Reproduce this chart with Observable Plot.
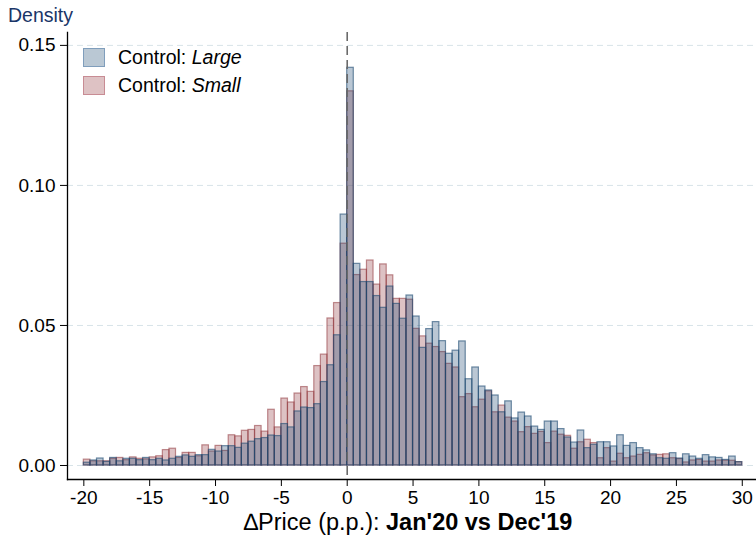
<!DOCTYPE html>
<html><head><meta charset="utf-8">
<script src="https://cdn.jsdelivr.net/npm/d3@7"></script>
<script src="https://cdn.jsdelivr.net/npm/@observablehq/plot@0.6"></script>
<style>
body{margin:0;background:#fff;}
#wrap{position:relative;width:756px;height:535px;font-family:"Liberation Sans",Arial,Helvetica,sans-serif;}
.legend{position:absolute;left:83px;top:43.4px;font-size:19.5px;color:#000;}
.item{display:flex;align-items:center;height:28.4px;}
.sw{width:20px;height:17px;border:1.5px solid;margin-right:13px;box-sizing:content-box;}
</style></head><body><div id="wrap"></div>
<script>
// bins: width 0.5 starting at -20 (100 bins up to 30)
const binStart = -20;
const binWidth = 0.5;
const xTicks = [-20, -15, -10, -5, 0, 5, 10, 15, 20, 25, 30];
const yTicks = [0, 0.05, 0.10, 0.15];
const seriesNames = ["Large", "Small"];

const large = [
0.0010,0.0018,0.0025,0.0013,0.0027,0.0015,0.0024,0.0024,0.0019,0.0027,
0.0019,0.0024,0.0018,0.0024,0.0031,0.0036,0.0031,0.0037,0.0037,0.0056,
0.0050,0.0069,0.0069,0.0063,0.0078,0.0085,0.0094,0.0098,0.0107,0.0105,
0.0148,0.0136,0.0193,0.0207,0.0205,0.0219,0.0298,0.0358,0.0465,0.0896,
0.1420,0.0720,0.0655,0.0655,0.0605,0.0563,0.0639,0.0577,0.0524,0.0607,
0.0532,0.0420,0.0487,0.0512,0.0444,0.0399,0.0410,0.0443,0.0308,0.0350,
0.0282,0.0268,0.0250,0.0190,0.0229,0.0168,0.0189,0.0175,0.0139,0.0127,
0.0157,0.0157,0.0130,0.0100,0.0082,0.0125,0.0062,0.0074,0.0083,0.0083,
0.0068,0.0108,0.0070,0.0080,0.0062,0.0054,0.0040,0.0026,0.0024,0.0044,
0.0025,0.0040,0.0032,0.0024,0.0037,0.0029,0.0027,0.0020,0.0032,0.0012];

const small = [
0.0021,0.0015,0.0015,0.0015,0.0024,0.0027,0.0019,0.0029,0.0024,0.0022,
0.0029,0.0033,0.0055,0.0060,0.0027,0.0045,0.0045,0.0033,0.0072,0.0050,
0.0070,0.0052,0.0108,0.0104,0.0124,0.0127,0.0141,0.0121,0.0199,0.0136,
0.0239,0.0225,0.0257,0.0280,0.0263,0.0355,0.0396,0.0525,0.0580,0.0792,
0.1336,0.0680,0.0699,0.0732,0.0646,0.0718,0.0679,0.0595,0.0595,0.0592,
0.0488,0.0461,0.0435,0.0423,0.0405,0.0363,0.0350,0.0244,0.0255,0.0208,
0.0235,0.0265,0.0190,0.0214,0.0171,0.0157,0.0119,0.0137,0.0113,0.0120,
0.0080,0.0121,0.0110,0.0106,0.0060,0.0083,0.0092,0.0080,0.0026,0.0062,
0.0014,0.0042,0.0026,0.0032,0.0038,0.0044,0.0036,0.0038,0.0040,0.0026,
0.0023,0.0011,0.0018,0.0020,0.0014,0.0014,0.0018,0.0017,0.0017,0.0012];

const navy = "#1a476f", maroon = "#90353b";
const FONT = '"Liberation Sans", Arial, Helvetica, sans-serif';

const toBins = arr => arr.map((v, i) => ({x1: binStart + i * binWidth, x2: binStart + (i + 1) * binWidth, y: v}));
const largeBins = toBins(large);
const smallBins = toBins(small);

const svg = Plot.plot({
  width: 756,
  height: 535,
  marginLeft: 67,
  marginRight: 0,
  marginTop: 32,
  marginBottom: 56,
  style: {fontFamily: FONT, fontSize: "19px", background: "#fff", color: "#000"},
  x: {domain: [-21.24, 31.08]},
  y: {domain: [-0.005, 0.1546]},
  marks: [
    Plot.gridY(yTicks, {stroke: "#d8e3e8", strokeOpacity: 1, strokeDasharray: "6,4", strokeWidth: 1}),
    Plot.rectY(smallBins, {x1: "x1", x2: "x2", y: "y", inset: 0, fill: maroon, fillOpacity: 0.3, stroke: maroon, strokeOpacity: 0.55, strokeWidth: 1.2}),
    Plot.rectY(largeBins, {x1: "x1", x2: "x2", y: "y", inset: 0, fill: navy, fillOpacity: 0.3, stroke: navy, strokeOpacity: 0.6, strokeWidth: 1.2}),
    Plot.ruleX([0], {stroke: "#6a6a6a", strokeWidth: 1.6, strokeDasharray: "9,5"}),
    Plot.frame({anchor: "left", stroke: "#000", strokeWidth: 1.3}),
    Plot.frame({anchor: "bottom", stroke: "#000", strokeWidth: 1.3}),
    Plot.axisY({ticks: yTicks, tickFormat: d3.format(".2f"), tickSize: 7, tickPadding: 5, fontSize: 19, label: null, stroke: "#000"}),
    Plot.axisX({ticks: xTicks, tickFormat: d => String(d), tickSize: 7, tickPadding: 4, fontSize: 19, label: null, stroke: "#000"})
  ]
});

const wrap = document.getElementById("wrap");
wrap.appendChild(svg);

const s = d3.select(svg);
s.append("text")
  .attr("x", 8).attr("y", 21.5)
  .attr("text-anchor", "start")
  .attr("font-family", FONT).attr("font-size", 19.5)
  .attr("fill", "#1a3668")
  .text("Density");

const title = s.append("text")
  .attr("x", 408).attr("y", 530)
  .attr("text-anchor", "middle")
  .attr("font-family", FONT).attr("font-size", 23.5)
  .attr("fill", "#000");
title.append("tspan").text("\u2206Price (p.p.): ");
title.append("tspan").attr("font-weight", "bold").text("Jan'20 vs Dec'19");

// legend
const legendItems = [
  {name: seriesNames[0], fill: "rgb(186,200,212)", border: "rgb(128,158,188)"},
  {name: seriesNames[1], fill: "rgb(222,194,196)", border: "rgb(200,140,148)"}
];
const lg = d3.select(wrap).append("div").attr("class", "legend");
legendItems.forEach(it => {
  const row = lg.append("div").attr("class", "item");
  row.append("div").attr("class", "sw").style("background", it.fill).style("border-color", it.border);
  const t = row.append("span");
  t.append("span").text("Control: ");
  t.append("i").text(it.name);
});
</script>
</body></html>
